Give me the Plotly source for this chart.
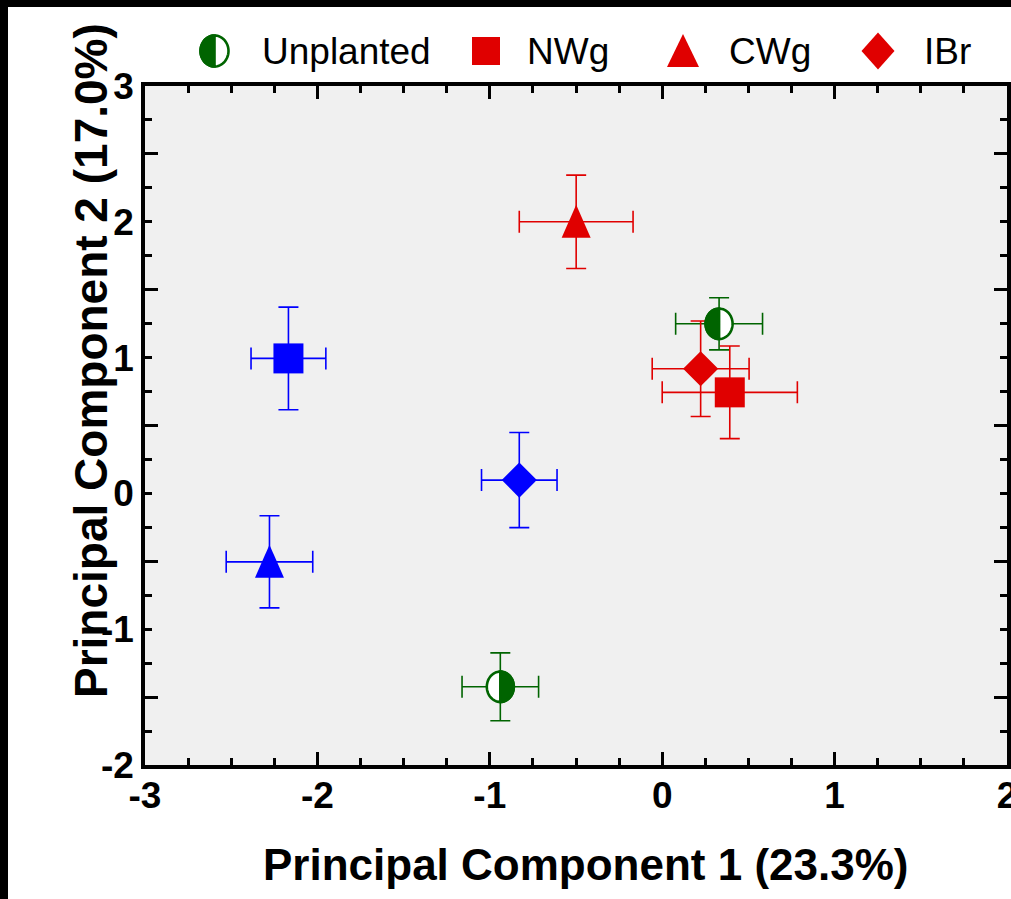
import math
import plotly.graph_objects as go

# ---------------- data ----------------
treatments = ["Unplanted", "NWg", "CWg", "IBr"]
# group A (red markers; Unplanted = left-half filled circle)
pc1_a = [0.330, 0.392, -0.499, 0.223]
pc2_a = [1.249, 0.744, 2.000, 0.918]
pc1_a_err = [0.252, 0.392, 0.330, 0.281]
pc2_a_err = [0.192, 0.341, 0.344, 0.352]
# group B (blue markers; Unplanted = right-half filled circle)
pc1_b = [-0.939, -2.168, -2.278, -0.829]
pc2_b = [-1.424, 0.994, -0.504, 0.098]
pc1_b_err = [0.222, 0.217, 0.251, 0.219]
pc2_b_err = [0.250, 0.378, 0.339, 0.350]

x_tick_vals = [-3, -2, -1, 0, 1, 2]
x_tick_text = ["-3", "-2", "-1", "0", "1", "2"]
y_tick_vals = [-2, -1, 0, 1, 2, 3]
y_tick_text = ["-2", "-1", "0", "1", "2", "3"]
y_half_ticks = [-1.5, -0.5, 0.5, 1.5, 2.5]
x_title = "Principal Component 1 (23.3%)"
y_title = "Principal Component 2 (17.0%)"

# ---------------- style ----------------
RED = "#e00000"
BLUE = "#0000ff"
GREEN = "#006400"
FONT = "Liberation Sans, Arial, sans-serif"

W, H = 1011, 899
ML, MR, MT, MB = 145, 4, 86, 134
PW, PH = W - ML - MR, H - MT - MB


def px_x(p):
    return (p - ML) / PW


def px_y(p):
    return (H - MB - p) / PH


def poly(points):
    return "M" + " L".join(f"{x:.2f},{y:.2f}" for x, y in points) + " Z"


def ellipse(rx, ry, a0, a1, n=40):
    pts = []
    for i in range(n + 1):
        a = math.radians(a0 + (a1 - a0) * i / n)
        pts.append((rx * math.cos(a), ry * math.sin(a)))
    return pts


def FULL(rx, ry):
    return poly(ellipse(rx, ry, 0, 360, 60))


def LEFT(rx, ry):
    return poly(ellipse(rx, ry, 90, 270, 30))


def RIGHT(rx, ry):
    return poly(ellipse(rx, ry, -90, 90, 30))


def tri(hw, down, up):
    return poly([(-hw, -down), (hw, -down), (0, up)])


def sq(h):
    return poly([(-h, -h), (h, -h), (h, h), (-h, h)])


def dia(hw, hh):
    return poly([(-hw, 0), (0, -hh), (hw, 0), (0, hh)])


fig = go.Figure()
shapes = []

groups = [
    (pc1_a, pc2_a, pc1_a_err, pc2_a_err, RED, "left"),
    (pc1_b, pc2_b, pc1_b_err, pc2_b_err, BLUE, "right"),
]

for xs, ys, exs, eys, col, half in groups:
    for i, name in enumerate(treatments):
        c = GREEN if name == "Unplanted" else col
        if name == "NWg":
            marker = dict(symbol="square", size=30, color=c, line=dict(width=0))
        elif name == "IBr":
            marker = dict(symbol="diamond", size=27, color=c, line=dict(width=0))
        else:
            marker = dict(symbol="circle", size=1, color="rgba(0,0,0,0)")
        fig.add_trace(go.Scatter(
            x=[xs[i]], y=[ys[i]], mode="markers", name=name, showlegend=False,
            marker=marker,
            error_x=dict(type="data", array=[exs[i]], color=c, thickness=1.6, width=11),
            error_y=dict(type="data", array=[eys[i]], color=c, thickness=1.6, width=10),
        ))
        base = dict(type="path", xref="x", yref="y", xsizemode="pixel", ysizemode="pixel",
                    xanchor=xs[i], yanchor=ys[i], layer="above")
        if name == "CWg":
            shapes.append(dict(base, path=tri(14.5, 16, 17), fillcolor=c, line=dict(width=0)))
        elif name == "Unplanted":
            shapes.append(dict(base, path=FULL(13.5, 15.2), fillcolor="white",
                               line=dict(color=c, width=2.6)))
            shapes.append(dict(base, path=(LEFT if half == "left" else RIGHT)(13.5, 15.2),
                               fillcolor=c, line=dict(color=c, width=2.6)))

# empty trace to hold the overlay axis for half-unit ticks
fig.add_trace(go.Scatter(x=[], y=[], yaxis="y2", showlegend=False, hoverinfo="skip"))

# ---------------- custom legend ----------------
LEG_Y = px_y(51)
leg_items = [
    ("Unplanted", 214.5, 260),
    ("NWg", 486, 525),
    ("CWg", 683, 727),
    ("IBr", 878, 922),
]
for name, gx, tx in leg_items:
    base = dict(type="path", xref="paper", yref="paper", xsizemode="pixel", ysizemode="pixel",
                xanchor=px_x(gx), yanchor=LEG_Y, layer="above")
    if name == "Unplanted":
        shapes.append(dict(base, path=FULL(14, 15.5), fillcolor="white", line=dict(color=GREEN, width=2.6)))
        shapes.append(dict(base, path=LEFT(14, 15.5), fillcolor=GREEN, line=dict(color=GREEN, width=2.6)))
    elif name == "NWg":
        shapes.append(dict(base, path=sq(14), fillcolor=RED, line=dict(width=0)))
    elif name == "CWg":
        shapes.append(dict(base, path=tri(16, 16, 17), fillcolor=RED, line=dict(width=0)))
    else:
        shapes.append(dict(base, path=dia(16.5, 18.5), fillcolor=RED, line=dict(width=0)))

annotations = []
for name, gx, tx in leg_items:
    annotations.append(dict(text=name, xref="paper", yref="paper", x=px_x(tx), y=px_y(51.5),
                            xanchor="left", yanchor="middle", showarrow=False,
                            font=dict(family=FONT, size=37, color="black")))

annotations.append(dict(text=x_title, xref="paper", yref="paper", x=px_x(585), y=px_y(864),
                        xanchor="center", yanchor="middle", showarrow=False,
                        font=dict(family=FONT, size=44, color="black", weight="bold")))
annotations.append(dict(text=y_title, xref="paper", yref="paper", x=px_x(91), y=px_y(361),
                        xanchor="center", yanchor="middle", showarrow=False, textangle=-90,
                        font=dict(family=FONT, size=46, color="black", weight="bold")))

# black frame strips (top and left)
shapes.append(dict(type="rect", xref="paper", yref="paper", x0=px_x(-2), x1=px_x(W + 2),
                   y0=px_y(7), y1=px_y(-2), fillcolor="black", line=dict(width=0), layer="above"))
shapes.append(dict(type="rect", xref="paper", yref="paper", x0=px_x(-2), x1=px_x(8),
                   y0=px_y(H + 2), y1=px_y(-2), fillcolor="black", line=dict(width=0), layer="above"))

tickfont = dict(family=FONT, size=37, color="black", weight="bold")

fig.update_layout(
    width=W, height=H,
    margin=dict(l=ML, r=MR, t=MT, b=MB, pad=0, autoexpand=False),
    paper_bgcolor="white",
    plot_bgcolor="#f0f0f0",
    showlegend=False,
    shapes=shapes,
    annotations=annotations,
    xaxis=dict(
        range=[-3, 2], tickvals=x_tick_vals, ticktext=x_tick_text, ticks="inside", ticklen=13,
        tickwidth=3, tickcolor="black", showline=True, linecolor="black", linewidth=3.5,
        mirror="ticks", showgrid=False, zeroline=False, tickfont=tickfont, ticklabelstandoff=-5,
        ticklabeloverflow="allow", automargin=False,
        minor=dict(dtick=0.25, ticks="inside", ticklen=7, tickwidth=2.5, tickcolor="black", showgrid=False),
    ),
    yaxis=dict(
        range=[-2, 3], tickvals=y_tick_vals, ticktext=y_tick_text, ticks="inside", ticklen=7,
        tickwidth=3, tickcolor="black", showline=True, linecolor="black", linewidth=3.5,
        mirror="ticks", showgrid=False, zeroline=False, tickfont=tickfont, ticklabelstandoff=0,
        ticklabeloverflow="allow", automargin=False,
        minor=dict(dtick=0.25, ticks="inside", ticklen=7, tickwidth=2.5, tickcolor="black", showgrid=False),
    ),
    yaxis2=dict(
        range=[-2, 3], overlaying="y", anchor="x", side="left", tickvals=y_half_ticks,
        ticks="inside", ticklen=13, tickwidth=3, tickcolor="black", showticklabels=False,
        showline=False, showgrid=False, zeroline=False, mirror="ticks", automargin=False,
    ),
)

fig.write_html(
    "out.html",
    config={"displayModeBar": False},
    post_script=(
        "document.documentElement.style.margin='0';"
        "document.body.style.margin='0';document.body.style.padding='0';"
        "document.documentElement.style.overflow='hidden';document.body.style.overflow='hidden';"
        "var gd=document.getElementById('{plot_id}');"
        "gd.style.overflow='hidden';"
    ),
)
